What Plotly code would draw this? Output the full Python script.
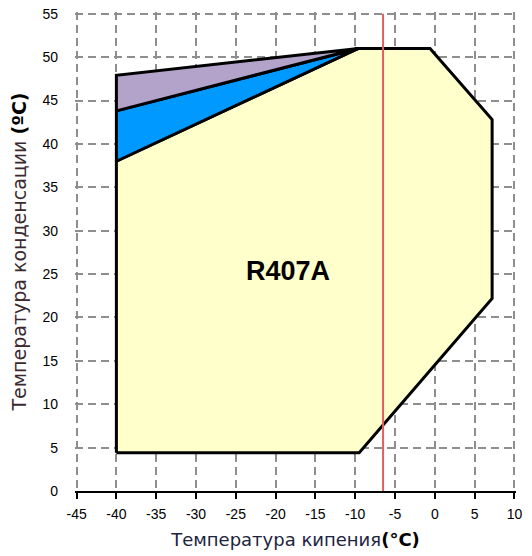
import plotly.graph_objects as go

# Envelope data (evaporating temp °C, condensing temp °C)
envelope_x = [-40, -9.5, 7.2, 7.2, -0.6, -9.6, -40, -40]
envelope_y = [4.4, 4.4, 22.2, 42.8, 51, 51, 38, 4.4]
blue_x = [-40, -9.6, -40, -40]
blue_y = [38, 51, 43.8, 38]
purple_x = [-40, -9.6, -40, -40]
purple_y = [43.8, 51, 47.9, 43.8]
limit_x = [-6.5, -6.5]
limit_y = [0, 55]
label_text = "R407A"
label_pos = (-18.5, 25.4)
x_ticks = list(range(-45, 11, 5))
y_ticks = list(range(0, 56, 5))

fig = go.Figure()
fig.add_trace(go.Scatter(x=envelope_x, y=envelope_y, mode="lines", fill="toself",
                         fillcolor="#FFFFCC", line=dict(color="black", width=3),
                         hoverinfo="skip", showlegend=False))
fig.add_trace(go.Scatter(x=blue_x, y=blue_y, mode="lines", fill="toself",
                         fillcolor="#0099FF", line=dict(color="black", width=3),
                         hoverinfo="skip", showlegend=False))
fig.add_trace(go.Scatter(x=purple_x, y=purple_y, mode="lines", fill="toself",
                         fillcolor="#B3A2C9", line=dict(color="black", width=3),
                         hoverinfo="skip", showlegend=False))
fig.add_trace(go.Scatter(x=limit_x, y=limit_y, mode="lines",
                         line=dict(color="#E06060", width=2),
                         hoverinfo="skip", showlegend=False))

fig.add_annotation(x=label_pos[0], y=label_pos[1], text="<b>" + label_text + "</b>",
                   showarrow=False, font=dict(family="Liberation Sans, Arial", size=27, color="black"))

# ranges padded slightly so the edge grid lines (-45, 10, 55) are drawn
fig.update_xaxes(range=[x_ticks[0] - 0.2, x_ticks[-1] + 0.2], tickvals=x_ticks,
                 ticktext=[str(v) for v in x_ticks],
                 automargin=False,
                 showgrid=True, gridcolor="#8E8E8E", gridwidth=1.5, griddash="8px,5px",
                 zeroline=False, showline=True, linecolor="black", linewidth=1.5,
                 ticks="outside", ticklen=6, tickcolor="black", tickwidth=1.5,
                 ticklabelstandoff=3,
                 tickfont=dict(family="Liberation Sans, Arial", size=14, color="black"),
                 title=dict(text="<span style='color:#1c2440'>Температура кипения</span><b>(°C)</b>",
                            font=dict(family="DejaVu Sans", size=18, color="black"), standoff=13))
fig.update_yaxes(range=[0, y_ticks[-1] + 0.2], tickvals=y_ticks, ticktext=[str(v) for v in y_ticks],
                 automargin=False,
                 showgrid=True, gridcolor="#8E8E8E", gridwidth=1.5, griddash="8px,5px",
                 zeroline=False, showline=False, ticks="", ticklabelstandoff=16,
                 tickfont=dict(family="Liberation Sans, Arial", size=14, color="black"),
                 title=dict(text="<span style='color:#3a2a30'>Температура конденсации</span> <b>(ºC)</b>",
                            font=dict(family="DejaVu Sans", size=19, color="black"), standoff=10))

fig.update_layout(width=532, height=556, margin=dict(l=75, r=16, t=12, b=65),
                  plot_bgcolor="white", paper_bgcolor="white")
# remove the page's default body margin so the figure fills the window
fig.write_html("out.html", config={"displayModeBar": False},
               post_script="document.body.style.margin='0';")
